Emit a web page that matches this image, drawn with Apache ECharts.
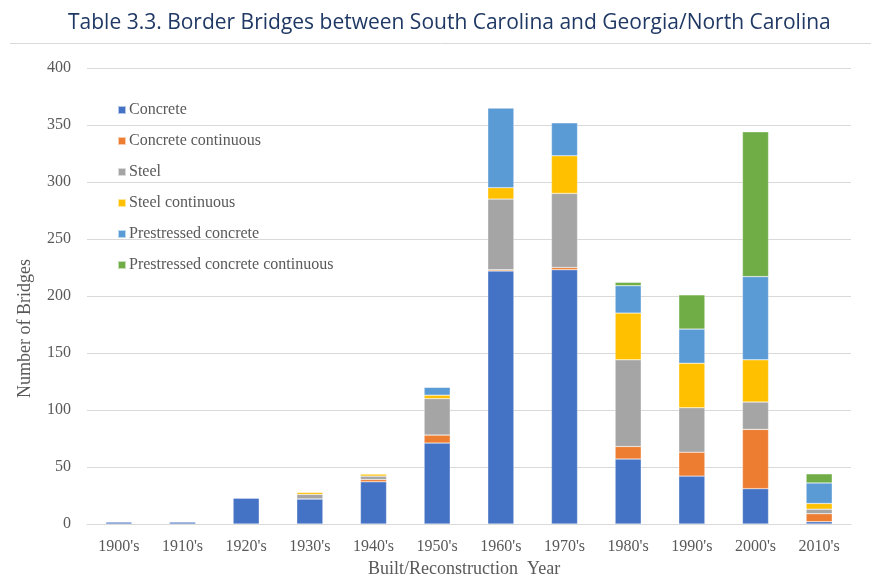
<!DOCTYPE html>
<html>
<head>
<meta charset="utf-8">
<script src="https://cdn.jsdelivr.net/npm/echarts@6/dist/echarts.min.js"></script>
<style>html,body{margin:0;padding:0;background:#fff}#c{width:871px;height:579px}</style>
</head>
<body>
<div id="c"></div>
<script>
var categories = ["1900's","1910's","1920's","1930's","1940's","1950's","1960's","1970's","1980's","1990's","2000's","2010's"];
var concrete           = [2, 2, 23, 22, 37, 71, 222, 223, 57, 42, 31, 2];
var concreteContinuous = [0, 0, 0, 0, 2, 7, 1, 2, 11, 21, 52, 7];
var steel              = [0, 0, 0, 4, 3, 32, 62, 65, 76, 39, 24, 4];
var steelContinuous    = [0, 0, 0, 2, 2, 3, 10, 33, 41, 39, 37, 5];
var prestressed        = [0, 0, 0, 0, 0, 7, 70, 29, 24, 30, 73, 18];
var prestressedCont    = [0, 0, 0, 0, 0, 0, 0, 0, 3, 30, 127, 8];
var yTicks = [0, 50, 100, 150, 200, 250, 300, 350, 400];

var seriesNames = ["Concrete","Concrete continuous","Steel","Steel continuous","Prestressed concrete","Prestressed concrete continuous"];
var seriesData = [concrete, concreteContinuous, steel, steelContinuous, prestressed, prestressedCont];
var colors = ["#4472C4","#ED7D31","#A5A5A5","#FFC000","#5B9BD5","#70AD47"];

var chart = echarts.init(document.getElementById('c'));
var serif = "'Liberation Serif','Times New Roman',serif";
chart.setOption({
  animation: false,
  color: colors,
  title: {
    text: "Table 3.3. Border Bridges between South Carolina and Georgia/North Carolina",
    left: 63, top: 8,
    textStyle: {fontFamily: "'Open Sans','Noto Sans',sans-serif", fontSize: 21, fontWeight: 'normal', color: '#1F3864'}
  },
  graphic: [
    {type: 'line', shape: {x1: 10, y1: 43.5, x2: 871, y2: 43.5}, style: {stroke: '#d9d9d9', lineWidth: 1}},
    {type: 'text', left: 368, top: 560, style: {text: 'Built/Reconstruction  Year', font: "18px " + serif, fill: '#595959'}},
    {type: 'text', x: 16, y: 398, rotation: Math.PI/2, style: {text: 'Number of Bridges', font: "18px " + serif, fill: '#595959'}}
  ],
  legend: {
    orient: 'vertical', left: 112, top: 97,
    itemWidth: 8, itemHeight: 8, itemGap: 15, icon: 'rect',
    data: seriesNames,
    textStyle: {fontFamily: serif, fontSize: 16, color: '#595959', lineHeight: 16, padding: [0,0,0,-2]}
  },
  grid: {left: 87, right: 20, top: 68, bottom: 55},
  xAxis: {
    type: 'category', data: categories,
    axisTick: {show: false},
    axisLine: {lineStyle: {color: '#d9d9d9', width: 1}},
    axisLabel: {fontFamily: serif, fontSize: 16, color: '#595959', margin: 15}
  },
  yAxis: {
    type: 'value', min: 0, max: 400, interval: 50,
    axisLine: {show: false}, axisTick: {show: false},
    splitLine: {lineStyle: {color: '#d9d9d9', width: 1}},
    axisLabel: {fontFamily: serif, fontSize: 16, color: '#595959', margin: 16,
      formatter: function(v){ return yTicks.indexOf(v) >= 0 ? String(v) : ''; }}
  },
  series: seriesNames.map(function(n, i){
    return {name: n, type: 'bar', stack: 'total', data: seriesData[i], barWidth: '41%',
      itemStyle: {borderColor: 'rgba(255,255,255,0.6)', borderWidth: 0.5}};
  })
});
</script>
</body>
</html>
